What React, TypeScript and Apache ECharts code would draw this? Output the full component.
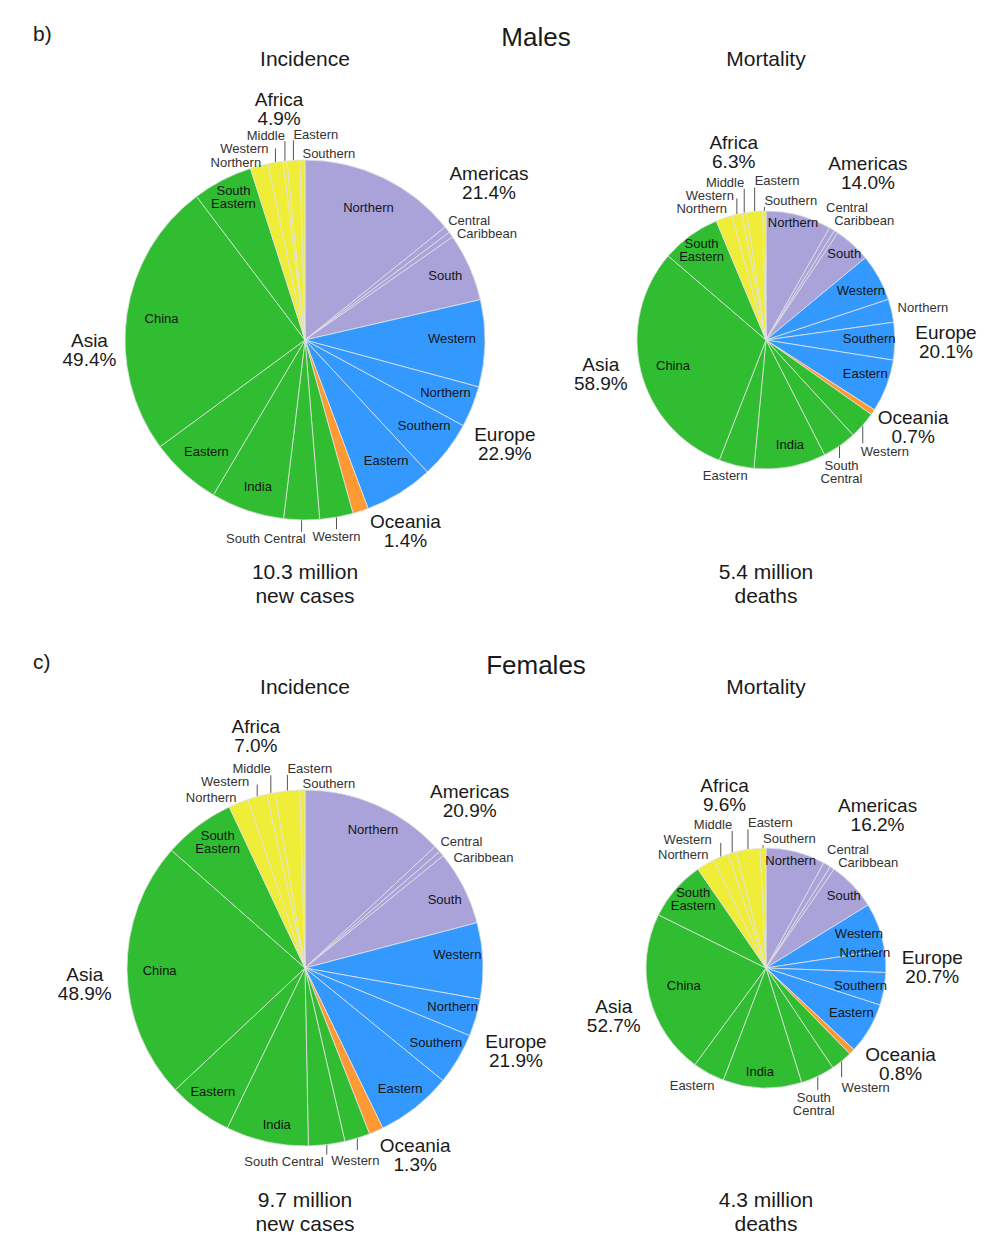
import React, { useEffect, useRef } from 'react';
import * as echarts from 'echarts';

// ---------- DATA ----------
const REGIONS = ['Americas', 'Europe', 'Oceania', 'Asia', 'Africa'];
const SUBREGIONS = [
  'Northern', 'Central', 'Caribbean', 'South',
  'Western', 'Northern', 'Southern', 'Eastern',
  'Oceania',
  'Western', 'South Central', 'India', 'Eastern', 'China', 'South Eastern',
  'Northern', 'Western', 'Middle', 'Eastern', 'Southern',
];
const SUB_GROUP = [0, 0, 0, 0, 1, 1, 1, 1, 2, 3, 3, 3, 3, 3, 3, 4, 4, 4, 4, 4];

const malesIncidenceTotals = [21.4, 22.9, 1.4, 49.4, 4.9];
const malesIncidenceSub = [14.2, 0.6, 0.5, 6.1, 7.8, 3.7, 5.2, 6.2, 1.4, 3.0, 3.2, 6.6, 6.4, 24.8, 5.4, 1.6, 1.35, 0.35, 1.15, 0.45];

const malesMortalityTotals = [14.0, 20.1, 0.7, 58.9, 6.3];
const malesMortalitySub = [8.2, 0.7, 0.5, 4.6, 5.9, 2.9, 4.7, 6.6, 0.7, 3.4, 4.3, 9.0, 4.4, 30.4, 7.4, 2.05, 1.25, 0.6, 2.0, 0.4];

const femalesIncidenceTotals = [20.9, 21.9, 1.3, 48.9, 7.0];
const femalesIncidenceSub = [13.05, 0.6, 0.5, 6.75, 6.9, 3.4, 4.7, 6.9, 1.3, 2.3, 3.3, 7.5, 5.8, 23.5, 6.5, 1.8, 1.75, 0.75, 2.25, 0.45];

const femalesMortalityTotals = [16.2, 20.7, 0.8, 52.7, 9.6];
const femalesMortalitySub = [8.0, 1.0, 0.6, 6.6, 6.4, 3.0, 4.4, 6.9, 0.8, 2.9, 4.6, 10.6, 4.3, 22.2, 8.1, 2.4, 2.1, 1.1, 3.2, 0.8];

const PANEL_LABELS = ['b)', 'c)'];
const SEX_TITLES = ['Males', 'Females'];
const MEASURE_TITLES = ['Incidence', 'Mortality'];
const TOTAL_TEXTS = [
  '10.3 million\nnew cases', '5.4 million\ndeaths',
  '9.7 million\nnew cases', '4.3 million\ndeaths',
];

// ---------- STYLE ----------
const COLORS = ['#a9a3da', '#3399ff', '#ff9933', '#31bd31', '#efed37'];
const FONT = '"Liberation Sans", Arial, Helvetica, sans-serif';

type Spec = { p: string; L?: number; dx?: number; dy?: number; t?: string } | null;

const SPEC_MI: Spec[] = [
  { p: 'in' }, { p: 'tr', dx: 1, dy: -3 }, { p: 'r', dx: 3, dy: -1 }, { p: 'in', dx: 6, dy: -5 },
  { p: 'in', dy: -4 }, { p: 'in', dx: 4, dy: -2 }, { p: 'in', dx: 3, dy: -5 }, { p: 'in', dx: 4, dy: -5 },
  null,
  { p: 'b', L: 12 }, { p: 'bl', L: 12, dx: 4 }, { p: 'in', dy: 7 }, { p: 'in', dy: 2 }, { p: 'in', dx: 2 },
  { p: 'in', t: 'South\nEastern', dx: -4, dy: -12 },
  { p: 'tl', dx: 2, dy: 3 }, { p: 'l', L: 14, dx: -4, dy: 0 }, { p: 'tl', L: 20, dy: 1 }, { p: 'tr', L: 20, dy: 1 }, { p: 'tr' },
];
const SPEC_MM: Spec[] = [
  { p: 'in', dy: -15 }, { p: 'tr', dx: -6, dy: -15 }, { p: 'tr', dx: -2, dy: -5 }, { p: 'in', dx: 7, dy: -8 },
  { p: 'in', dx: 2, dy: 2 }, { p: 'r', dx: 3, dy: -3 }, { p: 'in', dx: -3, dy: -3 }, { p: 'in', dy: -4 },
  null,
  { p: 'br', L: 18, dx: -2, dy: 2 }, { p: 'b', L: 12, dx: 2, t: 'South\nCentral' }, { p: 'in', dx: 4 },
  { p: 'b', dx: -11, dy: 2 }, { p: 'in', dx: 10 }, { p: 'in', t: 'South\nEastern', dx: -2, dy: -4 },
  { p: 'tl', dx: 3, dy: -3 }, { p: 'l', L: 16, dy: -3 }, { p: 'tl', L: 24 }, { p: 'tr', L: 24 }, { p: 'tr', L: 4 },
];
const SPEC_FI: Spec[] = [
  { p: 'in', dx: 10, dy: -5 }, { p: 'tr', dx: 3, dy: -1 }, { p: 'r', dx: 9, dy: 4 }, { p: 'in', dx: 10, dy: -3 },
  { p: 'in', dx: 7, dy: -8 }, { p: 'in', dx: 8, dy: -2 }, { p: 'in', dx: 6 }, { p: 'in', dx: 5, dy: 6 },
  null,
  { p: 'b', L: 12, dx: -2, dy: 3 }, { p: 'bl', L: 10, dx: -3 }, { p: 'in', dx: 3, dy: 15 },
  { p: 'in', dx: -6, dy: 6 }, { p: 'in' }, { p: 'in', t: 'South\nEastern', dy: -10 },
  { p: 'tl', dx: -2, dy: 1 }, { p: 'l', L: 12, dx: -5, dy: -3 }, { p: 'tl', L: 18 }, { p: 'tr', L: 16 }, { p: 'tr' },
];
const SPEC_FM: Spec[] = [
  { p: 'in', dy: -12 }, { p: 'tr', dy: -9 }, { p: 'tr', dx: 6, dy: 1 }, { p: 'in', dx: 6, dy: -4 },
  { p: 'in' }, { p: 'in', dy: -10 }, { p: 'in', dx: -3 }, { p: 'in', dy: -6 },
  null,
  { p: 'br', L: 16, dy: 4 }, { p: 'b', L: 14, dx: -4, t: 'South\nCentral' }, { p: 'in', dx: -3, dy: 5 },
  { p: 'bl', dx: 6, dy: 6 }, { p: 'in', dx: 14, dy: -6 }, { p: 'in', t: 'South\nEastern', dx: 2, dy: -4 },
  { p: 'tl', dx: 3, dy: -3 }, { p: 'l', L: 14, dx: -6, dy: -3 }, { p: 'tl', L: 22 }, { p: 'tr', L: 20 }, { p: 'tr', L: 3 },
];

const PIES = [
  { cx: 305, cy: 340, r: 180, totals: malesIncidenceTotals, sub: malesIncidenceSub, spec: SPEC_MI,
    groupOff: [[42, 21], [-1, -4], [30, -26], [3, -55], [9, -6]] },
  { cx: 766, cy: 340, r: 129, totals: malesMortalityTotals, sub: malesMortalitySub, spec: SPEC_MM,
    groupOff: [[32, -18], [16, 12], [11, -5], [-37, -69], [0, -27]] },
  { cx: 305, cy: 968, r: 178, totals: femalesIncidenceTotals, sub: femalesIncidenceSub, spec: SPEC_FI,
    groupOff: [[27, 12], [6, -11], [20, -20], [-13, -73], [0, -12]] },
  { cx: 766, cy: 968, r: 120, totals: femalesMortalityTotals, sub: femalesMortalitySub, spec: SPEC_FM,
    groupOff: [[37, -19], [14, -16], [25, -11], [-34, -49], [4, -27]] },
];

const PLACE: Record<string, [string, string, number, number]> = {
  l: ['right', 'middle', -3, 0], r: ['left', 'middle', 3, 0],
  t: ['center', 'bottom', 0, -1], b: ['center', 'top', 0, 1],
  tl: ['right', 'bottom', 0, 0], tr: ['left', 'bottom', 0, 0],
  bl: ['right', 'top', 0, 0], br: ['left', 'top', 0, 0],
};

function subLayout(spec: Spec[]) {
  return (p: any) => {
    const s = spec[p.dataIndex];
    if (!s) return {};
    if (s.p === 'in') {
      const rc = p.labelRect;
      return {
        x: rc.x + rc.width / 2 + (s.dx || 0), y: rc.y + rc.height / 2 + (s.dy || 0),
        align: 'center', verticalAlign: 'middle',
      };
    }
    const pts = p.labelLinePoints;
    if (!pts || pts.length < 2) return {};
    const p0 = [pts[0][0], pts[0][1]];
    const dir = pts[1][1] >= pts[0][1] ? 1 : -1;
    const L = s.L || 0;
    const e = [p0[0], p0[1] + dir * L];
    const [align, va, ox, oy] = PLACE[s.p];
    return {
      x: e[0] + ox + (s.dx || 0), y: e[1] + oy + (s.dy || 0), align, verticalAlign: va,
      labelLinePoints: L > 0 ? [p0, e, [e[0], e[1]]] : [p0, [p0[0], p0[1]], [p0[0], p0[1]]],
    };
  };
}

function groupLayout(off: number[][]) {
  return (p: any) => {
    const rc = p.labelRect;
    const o = off[p.dataIndex] || [0, 0];
    return { x: rc.x + rc.width / 2 + o[0], y: rc.y + rc.height / 2 + o[1], align: 'center', verticalAlign: 'middle' };
  };
}

function buildSeries() {
  const series: any[] = [];
  PIES.forEach((pie) => {
    series.push({
      type: 'pie', center: [pie.cx, pie.cy], radius: [0, pie.r], silent: true,
      emphasis: { disabled: true }, label: { show: false }, labelLine: { show: false },
      data: pie.sub.map((v, i) => ({
        value: v, name: SUBREGIONS[i],
        itemStyle: { color: COLORS[SUB_GROUP[i]], borderColor: '#e2e2e2', borderWidth: 0.8 },
      })),
    });
    series.push({
      type: 'pie', center: [pie.cx, pie.cy], radius: [pie.r * 0.6, pie.r], silent: true,
      avoidLabelOverlap: false, emphasis: { disabled: true },
      itemStyle: { color: 'rgba(0,0,0,0)', borderWidth: 0 },
      label: { fontSize: 13, fontFamily: FONT, lineHeight: 13, overflow: 'none' },
      labelLine: { length: 10, length2: 1, smooth: false, lineStyle: { color: '#555', width: 1 } },
      labelLayout: subLayout(pie.spec),
      data: pie.sub.map((v, i) => {
        const s = pie.spec[i];
        return {
          value: v, name: SUBREGIONS[i],
          label: s
            ? { show: true, position: s.p === 'in' ? 'inside' : 'outside', formatter: s.t || SUBREGIONS[i],
                color: s.p === 'in' ? '#151515' : '#333' }
            : { show: false },
          labelLine: { show: !!s && s.p !== 'in' },
        };
      }),
    });
    series.push({
      type: 'pie', center: [pie.cx, pie.cy], radius: [pie.r, pie.r * 1.5], silent: true,
      avoidLabelOverlap: false, emphasis: { disabled: true },
      itemStyle: { color: 'rgba(0,0,0,0)', borderWidth: 0 },
      label: {
        show: true, position: 'inside', fontSize: 19, lineHeight: 19, fontFamily: FONT, color: '#1a1a1a',
        formatter: (p: any) => `${p.name}\n${Number(p.value).toFixed(1)}%`, overflow: 'none',
      },
      labelLine: { show: false },
      labelLayout: groupLayout(pie.groupOff),
      data: pie.totals.map((v, i) => ({ value: v, name: REGIONS[i] })),
    });
  });
  return series;
}

function txt(text: string, x: number, y: number, size: number, align = 'center', lh = 24) {
  return {
    type: 'text', x, y, silent: true,
    style: {
      text, fill: '#1a1a1a', font: `${size}px ${FONT}`, fontSize: size, fontFamily: FONT,
      align, verticalAlign: 'middle', textAlign: align, textVerticalAlign: 'middle', lineHeight: lh,
    },
  };
}

function buildGraphics() {
  const g: any[] = [];
  const rowY = [0, 628];
  [0, 1].forEach((row) => {
    const oy = rowY[row];
    g.push(txt(PANEL_LABELS[row], 33, 33 + oy, 21, 'left'));
    g.push(txt(SEX_TITLES[row], 536, 37 + oy, 26));
    g.push(txt(MEASURE_TITLES[0], 305, 58 + oy, 21));
    g.push(txt(MEASURE_TITLES[1], 766, 58 + oy, 21));
    g.push(txt(TOTAL_TEXTS[row * 2], 305, 583 + oy, 21));
    g.push(txt(TOTAL_TEXTS[row * 2 + 1], 766, 583 + oy, 21));
  });
  return g;
}

export default function App() {
  const ref = useRef<HTMLDivElement>(null);
  useEffect(() => {
    if (!ref.current) return;
    const chart = echarts.init(ref.current, undefined, { renderer: 'svg' });
    chart.setOption({
      animation: false,
      backgroundColor: '#ffffff',
      series: buildSeries(),
      graphic: buildGraphics(),
    });
    return () => chart.dispose();
  }, []);
  return (
    <div
      ref={ref}
      style={{ position: 'absolute', left: 0, top: 0, width: 1000, height: 1252, background: '#fff' }}
    />
  );
}
